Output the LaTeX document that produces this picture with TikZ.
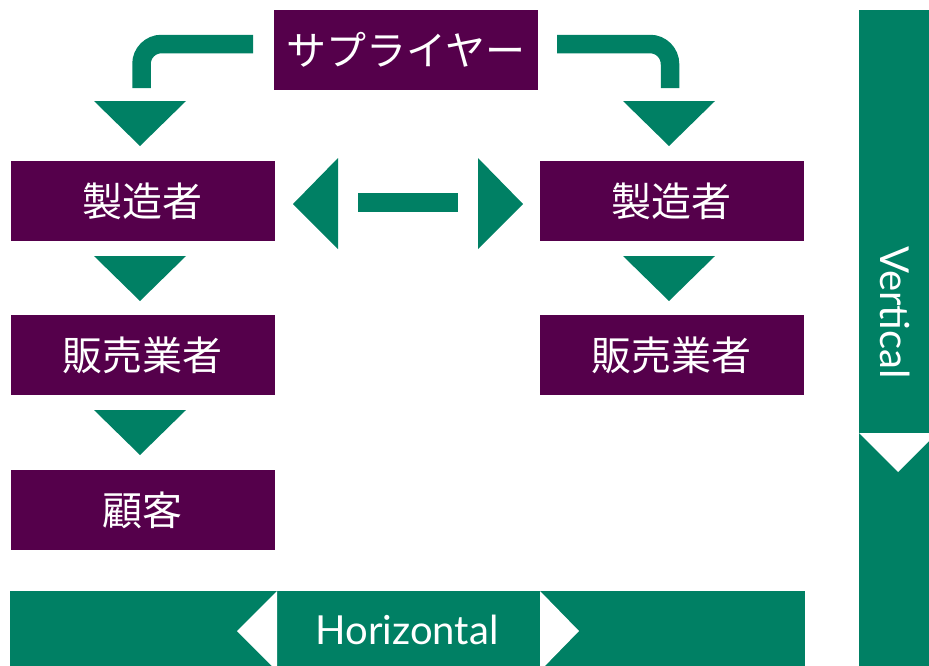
\documentclass[tikz,border=0pt]{standalone}
\usepackage{fontspec}
\setmainfont{Lato}
\newfontfamily\jp{Noto Sans CJK JP}
\definecolor{plum}{RGB}{85,0,75}
\definecolor{grn}{RGB}{0,128,100}
\begin{document}
\begin{tikzpicture}[x=1pt,y=-1pt,
  box/.style={fill=plum, minimum width=264pt, minimum height=80pt, inner sep=0pt,
    text=white, font=\jp\fontsize{40}{40}\selectfont},
  band/.style={draw=grn, line width=18.5pt, line cap=butt, rounded corners=20pt},
  tri/.style={fill=grn},
  lbl/.style={text=white, font=\fontsize{40}{40}\selectfont, inner sep=0pt}]
\useasboundingbox (0,0) rectangle (929,665);
% boxes
\node[box] (sup) at (406,50) {サプライヤー};
\node[box] (m1) at (142.5,201) {製造者};
\node[box] (s1) at (142.5,355) {販売業者};
\node[box] (c1) at (142.5,510) {顧客};
\node[box] (m2) at (671.5,201) {製造者};
\node[box] (s2) at (671.5,355) {販売業者};
% bent arrows from the supplier
\coordinate (la) at (253,44);
\coordinate (lb) at (141.5,44);
\coordinate (lc) at (141.5,88);
\coordinate (ra) at (557,44);
\coordinate (rb) at (670,44);
\coordinate (rc) at (670,88);
\draw[band] (la) -- (lb) -- (lc);
\draw[band] (ra) -- (rb) -- (rc);
\fill[tri] (94,101) -- (186,101) -- (140,146) -- cycle;
\fill[tri] (623,101) -- (715,101) -- (669,146) -- cycle;
% down arrows
\fill[tri] (94,256) -- (186,256) -- (140,301) -- cycle;
\fill[tri] (94,410) -- (186,410) -- (140,455) -- cycle;
\fill[tri] (623,256) -- (715,256) -- (669,301) -- cycle;
% double arrow between manufacturers
\fill[tri] (293,204) -- (338,158) -- (338,249) -- cycle;
\fill[grn] (358,193) rectangle (458,212);
\fill[tri] (523,204) -- (478,158) -- (478,249) -- cycle;
% horizontal bar
\fill[grn] (10,591) rectangle (805,671);
\fill[white] (237,631) -- (277,591) -- (277,671) -- cycle;
\fill[white] (579,631) -- (540,591) -- (540,671) -- cycle;
\node[lbl, anchor=base] (hz) at (407,644) {Horizontal};
% vertical bar
\fill[grn] (859,10) rectangle (937,670);
\fill[white] (859,433) -- (937,433) -- (898,472) -- cycle;
\node[lbl, anchor=base, rotate=-90] (vt) at (880,312.5) {Vertical};
\end{tikzpicture}
\end{document}
